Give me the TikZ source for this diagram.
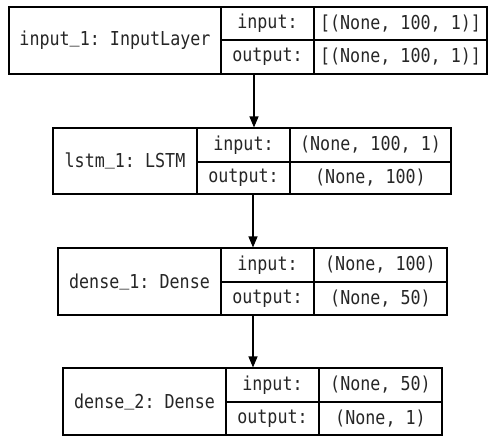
\documentclass[tikz,border=0pt]{standalone}
\usepackage{fontspec}
\setmonofont[FakeStretch=0.87]{DejaVu Sans Mono}
\usetikzlibrary{arrows.meta}
\newcommand{\usc}{\raisebox{3pt}{\_}}
\tikzset{
  cell/.style={draw=black, line width=1.1pt, rectangle, inner sep=0pt, font=\ttfamily\fontsize{19.2}{21}\selectfont, text=black!85},
  arr/.style={draw=black, line width=1.1pt, -{Triangle[length=11pt,width=9pt]}}
}
\begin{document}
\begin{tikzpicture}[x=1pt,y=-1pt]
\useasboundingbox (0,0) rectangle (488,437);
% layer 1
\node[cell, minimum width=212pt, minimum height=67pt] (t1) at (115,40.5) {input\usc1: InputLayer};
\node[cell, minimum width=93pt, minimum height=33pt] (il1) at (267.5,23.5) {input:};
\node[cell, minimum width=173pt, minimum height=33pt] (iv1) at (400.5,23.5) {[(None, 100, 1)]};
\node[cell, minimum width=93pt, minimum height=34pt] (ol1) at (267.5,57) {output:};
\node[cell, minimum width=173pt, minimum height=34pt] (ov1) at (400.5,57) {[(None, 100, 1)]};
% layer 2
\node[cell, minimum width=144pt, minimum height=66pt] (t2) at (125,161) {lstm\usc1: LSTM};
\node[cell, minimum width=93pt, minimum height=34pt] (il2) at (243.5,145) {input:};
\node[cell, minimum width=161pt, minimum height=34pt] (iv2) at (370.5,145) {(None, 100, 1)};
\node[cell, minimum width=93pt, minimum height=32pt] (ol2) at (243.5,178) {output:};
\node[cell, minimum width=161pt, minimum height=32pt] (ov2) at (370.5,178) {(None, 100)};
% layer 3
\node[cell, minimum width=163pt, minimum height=67pt] (t3) at (139.5,281.5) {dense\usc1: Dense};
\node[cell, minimum width=93pt, minimum height=34pt] (il3) at (267.5,265) {input:};
\node[cell, minimum width=133pt, minimum height=34pt] (iv3) at (380.5,265) {(None, 100)};
\node[cell, minimum width=93pt, minimum height=33pt] (ol3) at (267.5,298.5) {output:};
\node[cell, minimum width=133pt, minimum height=33pt] (ov3) at (380.5,298.5) {(None, 50)};
% layer 4
\node[cell, minimum width=163pt, minimum height=67pt] (t4) at (144.5,401.5) {dense\usc2: Dense};
\node[cell, minimum width=93pt, minimum height=34pt] (il4) at (272.5,385) {input:};
\node[cell, minimum width=123pt, minimum height=34pt] (iv4) at (380.5,385) {(None, 50)};
\node[cell, minimum width=93pt, minimum height=33pt] (ol4) at (272.5,418.5) {output:};
\node[cell, minimum width=123pt, minimum height=33pt] (ov4) at (380.5,418.5) {(None, 1)};
% edges
\draw[arr] ([xshift=-13.5pt]ol1.south) -- ([xshift=-13.5pt]ol1.south |- il2.north);
\draw[arr] ([xshift=9.5pt]ol2.south) -- ([xshift=9.5pt]ol2.south |- il3.north);
\draw[arr] ([xshift=-14.5pt]ol3.south) -- ([xshift=-14.5pt]ol3.south |- il4.north);
\end{tikzpicture}
\end{document}
